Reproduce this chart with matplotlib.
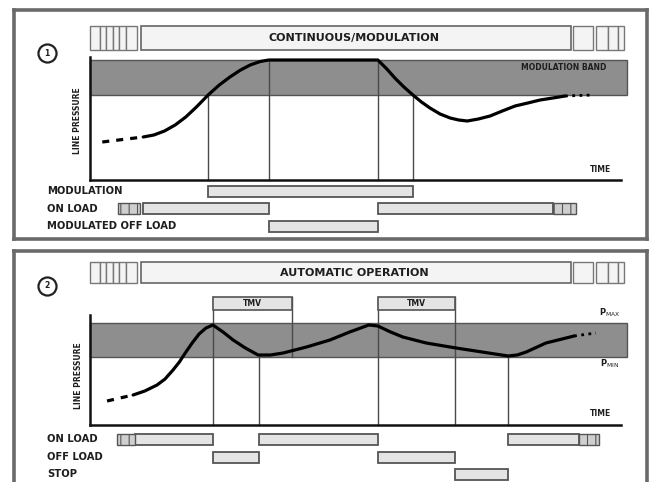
import matplotlib
matplotlib.use("Agg")
import matplotlib.pyplot as plt
from matplotlib.patches import Rectangle

# time runs 0..100 along the time axis, pressure in arbitrary units (0 = time axis)

# --- panel 1 : continuous / modulation
p1_title = "CONTINUOUS/MODULATION"
p1_time = [10.0, 12.0, 14.0, 16.0, 18.0, 20.0, 22.2, 24.3, 26.3, 28.3, 30.1, 32.0, 33.6,
           54.1, 55.8, 57.3, 59.0, 60.7, 62.3, 63.9, 65.8, 67.7, 69.3, 70.9,
           73.0, 75.2, 77.5, 79.9, 82.3, 84.6, 87.0, 89.3]
p1_pressure = [43, 45, 49, 55, 63, 73, 85, 95, 103, 110, 115, 118.5, 120,
               120, 111, 102, 93, 85, 78, 72, 66, 62, 60, 59,
               61, 64, 69, 74, 77, 80, 82, 84]
p1_lead = ([2.3, 10.0], [38, 43])
p1_tail = ([89.3, 94.4], [84, 85])
p1_band = (85, 120)
p1_marks = [(22.2, 0, 85), (33.6, 0, 120), (54.1, 0, 120), (60.7, 0, 85)]
p1_rows = ["MODULATION", "ON LOAD", "MODULATED OFF LOAD"]
p1_row_y = [-11.5, -28.5, -46]
p1_bars = [[(22.2, 60.7)], [(10.0, 33.6), (54.1, 87.0)], [(33.6, 54.1)]]
p1_stubs = [[], [(5.3, 9.4), (87.0, 91.4)], []]

# --- panel 2 : automatic operation
p2_title = "AUTOMATIC OPERATION"
p2_time = [8.1, 10.3, 12.6, 14.1, 15.6, 16.8, 17.9, 19.2, 20.5, 21.8, 23.1,
           25.0, 26.9, 29.2, 31.6, 33.9, 36.3, 40.7, 45.1, 48.8, 52.4, 54.1,
           56.5, 58.8, 63.2, 68.8, 73.7, 78.6, 80.3, 82.0, 85.7, 89.5, 91.0]
p2_pressure = [30, 34, 40, 46, 55, 63, 72, 82, 91, 97, 100,
               93, 85, 77, 70, 70, 72, 78, 85, 93, 100, 99,
               93, 88, 82, 77, 73, 69, 70, 73, 82, 87, 89]
p2_lead = ([3.2, 8.1], [24, 30])
p2_tail = ([91.0, 95.1], [89, 92])
p2_band = (68, 102)
p2_marks = [(23.1, 0, 128), (38.0, 68, 128), (31.8, 0, 70),
            (54.1, 0, 128), (68.6, 0, 128), (78.6, 0, 69)]
p2_tmv = [(23.1, 38.0), (54.1, 68.6)]
p2_rows = ["ON LOAD", "OFF LOAD", "STOP"]
p2_row_y = [-14.5, -32, -49]
p2_bars = [[(8.5, 23.1), (31.8, 54.1), (78.6, 91.9)],
           [(23.1, 31.8), (54.1, 68.6)],
           [(68.6, 78.6)]]
p2_stubs = [[(5.1, 8.5), (91.9, 95.7)], [], []]

EDGE = "#555555"
LIGHT = "#e4e4e4"
TXT = "#1e1e1e"
FONT = dict(family="DejaVu Sans", weight="bold", color=TXT)


def top_bar(ax, y0, y1, title):
    h = y1 - y0
    left_cells = [(0, 1.9), (1.9, 3.0), (3.0, 4.3), (4.3, 5.5), (5.5, 6.8), (6.8, 8.8)]
    right_cells = [(90.8, 94.5), (95.1, 97.4), (97.4, 99.2), (99.2, 100.4)]
    for a, b in left_cells + right_cells:
        ax.add_patch(Rectangle((a, y0), b - a, h, fc="#f4f4f4", ec="#777777", lw=1.0))
    ax.add_patch(Rectangle((9.6, y0), 90.4 - 9.6, h, fc="#f4f4f4", ec="#666666", lw=1.2))
    ax.text(49.6, (y0 + y1) / 2, title, ha="center", va="center", fontsize=8, **FONT)


def draw_panel(ax, num, title, bar_y, time, pres, lead, tail, band, axis_top,
               marks, rows, row_y, bars, stubs):
    for s in ax.spines.values():
        s.set_color("#6a6a6a")
        s.set_linewidth(2.6)
    ax.set_xticks([])
    ax.set_yticks([])

    top_bar(ax, bar_y[0], bar_y[1], title)
    ax.plot(-8.1, bar_y[0] - 3, "o", ms=13, mfc="white", mec="#222222", mew=1.6)
    ax.text(-8.1, bar_y[0] - 3, num, ha="center", va="center", fontsize=5.5, **FONT)

    ax.add_patch(Rectangle((0, band[0]), 100.9, band[1] - band[0],
                           fc="#8e8e8e", ec=EDGE, lw=1.0, zorder=1))
    for t, lo, hi in marks:
        ax.plot([t, t], [lo, hi], color="#4a4a4a", lw=1.0, zorder=2)

    ax.plot([0, 0], [0, axis_top], color="#111111", lw=1.8, zorder=4)
    ax.plot([0, 99.8], [0, 0], color="#111111", lw=1.8, zorder=4)

    ax.plot(time, pres, color="black", lw=2.3, zorder=5, solid_capstyle="round",
            solid_joinstyle="round")
    ax.plot(*lead, color="black", lw=2.3, ls=(0, (2.2, 2.2)), zorder=5)
    ax.plot(*tail, color="black", lw=2.0, ls=(0, (1.0, 1.6)), zorder=5)

    ax.text(95.9, 11, "TIME", ha="center", va="center", fontsize=5.5, **FONT)

    for label, y, segs, stub in zip(rows, row_y, bars, stubs):
        ax.text(-8.1, y, label, ha="left", va="center", fontsize=7.2, **FONT)
        for a, b in segs:
            ax.add_patch(Rectangle((a, y - 5.5), b - a, 11, fc=LIGHT, ec=EDGE, lw=1.3))
        for a, b in stub:
            ax.add_patch(Rectangle((a, y - 5.5), b - a, 11, fc="#cfcfcf", ec=EDGE,
                                   lw=1.0, hatch="||"))


fig = plt.figure(figsize=(6.56, 4.82), dpi=100)
plt.rcParams["hatch.color"] = "#444444"
plt.rcParams["hatch.linewidth"] = 0.8

ax1 = fig.add_axes([14 / 656, (482 - 239) / 482, 633 / 656, 229 / 482])
ax1.set_xlim(-14.29, 104.7)
ax1.set_ylim(-59, 170)
draw_panel(ax1, "1", p1_title, (130, 154), p1_time, p1_pressure, p1_lead, p1_tail,
           p1_band, 123, p1_marks, p1_rows, p1_row_y, p1_bars, p1_stubs)
ax1.text(-2.4, 59, "LINE PRESSURE", rotation=90, ha="center", va="center",
         fontsize=5.5, **FONT)
ax1.text(97.0, 112, "MODULATION BAND", ha="right", va="center", fontsize=5.5, **FONT)

ax2 = fig.add_axes([14 / 656, (482 - 500) / 482, 633 / 656, 249 / 482])
ax2.set_xlim(-14.29, 104.7)
ax2.set_ylim(-75, 174)
draw_panel(ax2, "2", p2_title, (142, 163), p2_time, p2_pressure, p2_lead, p2_tail,
           p2_band, 110, p2_marks, p2_rows, p2_row_y, p2_bars, p2_stubs)
for a, b in p2_tmv:
    ax2.add_patch(Rectangle((a, 115), b - a, 13, fc=LIGHT, ec=EDGE, lw=1.2, zorder=3))
    ax2.text((a + b) / 2, 121.5, "TMV", ha="center", va="center", fontsize=5.5,
             zorder=4, **FONT)
ax2.text(-2.1, 49, "LINE PRESSURE", rotation=90, ha="center", va="center",
         fontsize=5.5, **FONT)
ax2.text(97.6, 112, r"P$_{\mathrm{MAX}}$", ha="center", va="center", fontsize=6, **FONT)
ax2.text(97.6, 61, r"P$_{\mathrm{MIN}}$", ha="center", va="center", fontsize=6, **FONT)

fig.savefig("out.png", dpi=100)
